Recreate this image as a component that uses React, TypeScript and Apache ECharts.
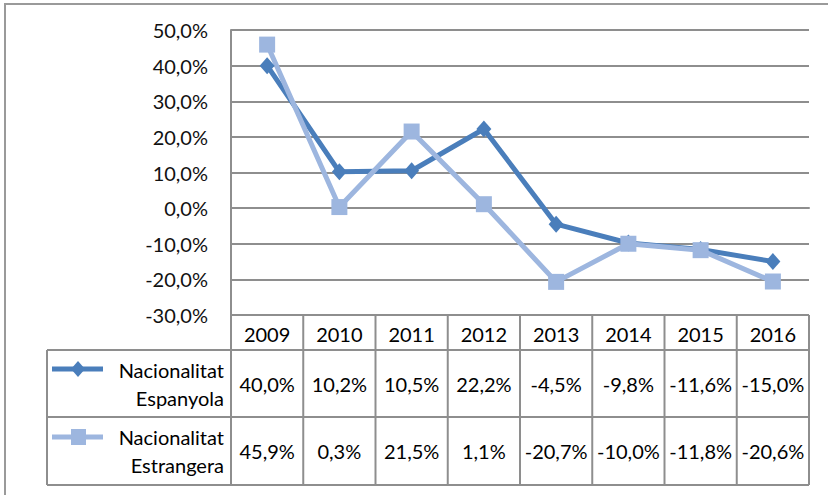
import React, { useEffect, useRef } from "react";
import * as echarts from "echarts";

const years = ["2009", "2010", "2011", "2012", "2013", "2014", "2015", "2016"];
const espanyola = [40.0, 10.2, 10.5, 22.2, -4.5, -9.8, -11.6, -15.0];
const estrangera = [45.9, 0.3, 21.5, 1.1, -20.7, -10.0, -11.8, -20.6];
const seriesNames = ["Nacionalitat\nEspanyola", "Nacionalitat\nEstrangera"];
const yTicks = { min: -30, max: 50, interval: 10 };

const fmt = (v: number) => v.toFixed(1).replace(".", ",") + "%";

const W = 828;
const H = 495;
const GL = 231;
const GR = 809;
const GT = 30;
const GB = 315;
const ROW1 = 350;
const ROW2 = 417;
const ROW3 = 485;
const LEG_L = 47;
const DARK = "#4A7EBB";
const LIGHT = "#9DB6DF";
const GRID_C = "#8E8E8E";
const FONT = "Lato";

export default function App() {
  const ref = useRef<HTMLDivElement>(null);
  useEffect(() => {
    if (!ref.current) return;
    const chart = echarts.init(ref.current, null, { renderer: "svg" });
    const lineStyle = { stroke: GRID_C, lineWidth: 2 };
    const txt = (x: number, y: number, text: string, align: string) => ({
      type: "text",
      x,
      y,
      style: {
        text,
        fill: "#000",
        font: `20px ${FONT}`,
        align,
        verticalAlign: "middle",
      },
      silent: true,
    });
    const row1Y = (ROW1 + ROW2) / 2;
    const row2Y = (ROW2 + ROW3) / 2;
    const sampleY1 = 369;
    const sampleY2 = 437;
    const colW = (GR - GL) / years.length;
    const graphics: any[] = [
      { type: "rect", shape: { x: 5, y: 4, width: W + 20, height: H + 20 }, style: { fill: "none", stroke: "#9A9A9A", lineWidth: 2 }, silent: true },
      { type: "line", shape: { x1: LEG_L, y1: ROW1, x2: GR, y2: ROW1 }, style: lineStyle, silent: true },
      { type: "line", shape: { x1: LEG_L, y1: ROW2, x2: GR, y2: ROW2 }, style: lineStyle, silent: true },
      { type: "line", shape: { x1: LEG_L, y1: ROW3, x2: GR, y2: ROW3 }, style: lineStyle, silent: true },
      { type: "line", shape: { x1: LEG_L, y1: ROW1, x2: LEG_L, y2: ROW3 }, style: lineStyle, silent: true },
      // legend samples
      { type: "line", shape: { x1: 52, y1: sampleY1, x2: 103, y2: sampleY1 }, style: { stroke: DARK, lineWidth: 5 }, silent: true },
      { type: "polygon", shape: { points: [[78, sampleY1 - 8], [85, sampleY1], [78, sampleY1 + 8], [71, sampleY1]] }, style: { fill: DARK }, silent: true },
      { type: "line", shape: { x1: 52, y1: sampleY2, x2: 103, y2: sampleY2 }, style: { stroke: LIGHT, lineWidth: 5 }, silent: true },
      { type: "rect", shape: { x: 71, y: sampleY2 - 8, width: 15, height: 16 }, style: { fill: LIGHT }, silent: true },
    ];
    for (let i = 0; i <= years.length; i++) {
      const x = GL + colW * i;
      graphics.push({ type: "line", shape: { x1: x, y1: GB, x2: x, y2: ROW3 }, style: lineStyle, silent: true });
    }
    seriesNames.forEach((n, r) => {
      const [a, b] = n.split("\n");
      const cy = r === 0 ? row1Y : row2Y;
      graphics.push(txt(224, cy - 14, a, "right"));
      graphics.push(txt(224, cy + 14, b, "right"));
    });

    const valueAxis = (data: number[], offset: number) => ({
      type: "category",
      data: data.map(fmt),
      position: "bottom",
      offset,
      gridIndex: 0,
      axisLine: { show: false },
      axisTick: { show: false },
      splitLine: { show: false },
      splitArea: { show: false },
      axisLabel: {
        interval: 0,
        margin: 0,
        verticalAlign: "middle",
        fontFamily: FONT,
        fontSize: 20,
        color: "#000",
      },
    });

    chart.setOption({
      animation: false,
      backgroundColor: "#fff",
      grid: { left: GL, right: W - GR, top: GT, bottom: H - GB, containLabel: false },
      xAxis: [
        {
          type: "category",
          data: years,
          boundaryGap: true,
          splitLine: { show: false },
          splitArea: { show: false },
          axisLine: { show: true, lineStyle: { color: GRID_C, width: 2 } },
          axisTick: { show: false },
          axisLabel: {
            interval: 0,
            margin: ROW1 - GB,
            verticalAlign: "bottom",
            fontFamily: FONT,
            fontSize: 20,
            color: "#000",
            padding: [0, 0, 6, 0],
          },
        },
        valueAxis(espanyola, (ROW1 + ROW2) / 2 - GB),
        valueAxis(estrangera, (ROW2 + ROW3) / 2 - GB),
      ],
      yAxis: {
        type: "value",
        min: yTicks.min,
        max: yTicks.max,
        interval: yTicks.interval,
        axisLine: { show: true, lineStyle: { color: GRID_C, width: 2 } },
        axisTick: { show: false },
        splitLine: { show: true, lineStyle: { color: GRID_C, width: 2 } },
        axisLabel: {
          formatter: (v: number) => fmt(v),
          margin: 23,
          fontFamily: FONT,
          fontSize: 20,
          color: "#111",
        },
      },
      series: [
        {
          name: "Nacionalitat Espanyola",
          type: "line",
          data: espanyola,
          symbol: "diamond",
          symbolSize: [15, 17],
          lineStyle: { color: DARK, width: 5 },
          itemStyle: { color: DARK },
        },
        {
          name: "Nacionalitat Estrangera",
          type: "line",
          data: estrangera,
          symbol: "rect",
          symbolSize: 16,
          lineStyle: { color: LIGHT, width: 5 },
          itemStyle: { color: LIGHT },
        },
      ],
      graphic: graphics,
    });
    return () => chart.dispose();
  }, []);
  return (
    <div
      ref={ref}
      style={{ position: "absolute", left: 0, top: 0, width: W, height: H }}
    />
  );
}
